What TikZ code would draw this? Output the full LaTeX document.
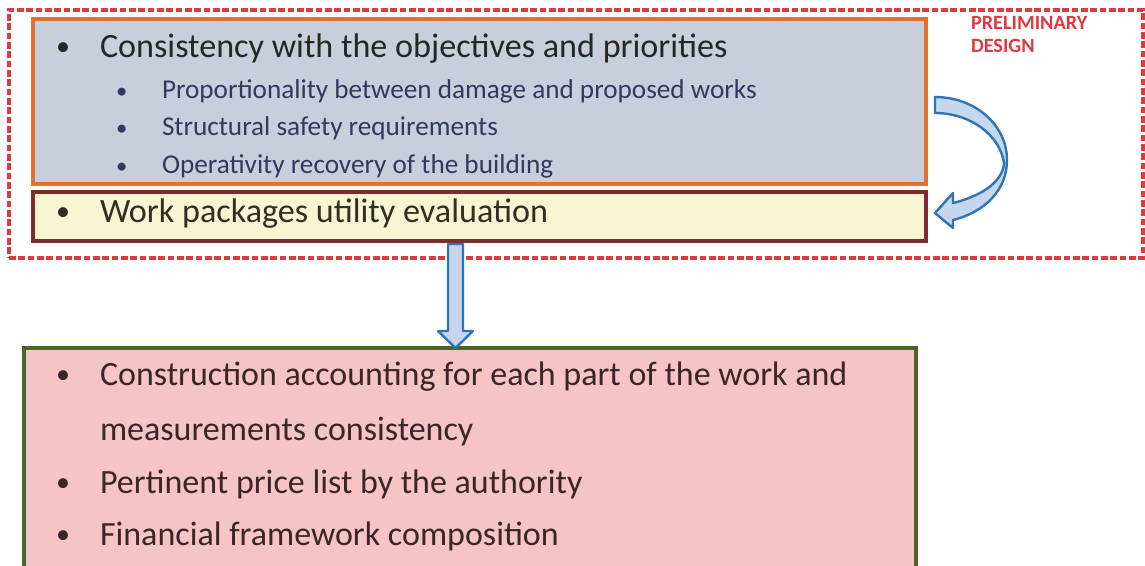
\documentclass[tikz,border=0pt]{standalone}
\usepackage{fontspec}
\setmainfont{Carlito}
\usetikzlibrary{calc,fit}
\definecolor{slate}{HTML}{C9CEDC}
\definecolor{amber}{HTML}{E4702A}
\definecolor{cream}{HTML}{F8F5D2}
\definecolor{maroon}{HTML}{7F2A2C}
\definecolor{blush}{HTML}{F5C5C6}
\definecolor{moss}{HTML}{4F6128}
\definecolor{signal}{HTML}{E0383E}
\definecolor{sky}{HTML}{C6D6EC}
\definecolor{ocean}{HTML}{2E75B6}
\definecolor{ink}{HTML}{262626}
\definecolor{navy}{HTML}{2F3B5C}
\definecolor{cocoa}{HTML}{3B2527}
\begin{document}
\begin{tikzpicture}[x=0.75pt,y=-0.75pt,
    every node/.style={inner sep=0pt,outer sep=0pt},
    panel/.style={draw,line width=2.4pt},
    txt/.style={anchor=base west,font=\fontsize{25.6}{30}\selectfont},
    subtxt/.style={anchor=base west,text=navy,font=\fontsize{20.4}{24}\selectfont},
    bigtxt/.style={anchor=base west,text=cocoa,font=\fontsize{25.5}{30}\selectfont},
    dot/.style={anchor=base west,font=\fontsize{21}{25}\selectfont},
    blockarrow/.style={draw=ocean,fill=sky,line width=1.8pt,line join=round}]
    \useasboundingbox (0,0) rectangle (1145,565);
    % preliminary design frame
    \node[fit={(9,10) (1143,258)},draw=signal,line width=2.6pt,dash pattern=on 5pt off 2pt] (frame) {};
    \node[anchor=north west,align=left,text=signal,font=\fontsize{15.2}{17.5}\selectfont\bfseries] (phase) at (971,16) {PRELIMINARY\\DESIGN};
    % boxes
    \node[fit={(33,19) (926,184)},panel,draw=amber,fill=slate] (goals) {};
    \node[fit={(33,192) (926,241)},panel,draw=maroon,line width=2.6pt,fill=cream] (util) {};
    \node[fit={(24,348) (916,575)},panel,draw=moss,fill=blush] (cost) {};
    % texts
    \node[dot,text=ink] (b1) at (56,55) {\textbullet};
    \node[txt,text=ink] (goaltxt) at (100,57) {Consistency with the objectives and priorities};
    \foreach \y/\t in {98/Proportionality between damage and proposed works,
                       135/Structural safety requirements,
                       173/Operativity recovery of the building} {
      \node[subtxt,font=\fontsize{17}{20}\selectfont] (sb\y) at (116,\y) {\textbullet};
      \node[subtxt] (st\y) at (162,\y) {\t};
    }
    \node[dot,text=ink!90!olive] (b2) at (56,220) {\textbullet};
    \node[txt,text=ink!90!olive] (utiltxt) at (100,222) {Work packages utility evaluation};
    \node[dot,text=cocoa] (cb1) at (56,383) {\textbullet};
    \node[bigtxt] (ct1) at (100,385) {Construction accounting for each part of the work and};
    \node[bigtxt] (ct2) at (100,440) {measurements consistency};
    \node[dot,text=cocoa] (cb3) at (56,491) {\textbullet};
    \node[bigtxt] (ct3) at (100,493) {Pertinent price list by the authority};
    \node[dot,text=cocoa] (cb4) at (56,543) {\textbullet};
    \node[bigtxt] (ct4) at (100,545) {Financial framework composition};
    % curved arrow
    \draw[blockarrow] (935,97) .. controls (975,97) and (1007,125) .. (1007,160)
      .. controls (1007,190) and (985,212) .. (953,220) -- (953,228) -- (935,213)
      -- (953,193) -- (953,203) .. controls (985,195) and (1003,180) .. (1004,163)
      .. controls (1000,135) and (970,113) .. (935,113) -- cycle;
    % down arrow
    \coordinate (dtop) at (455.5,244);
    \coordinate (dtip) at (dtop |- cost.north);
    \draw[blockarrow] ($(dtop)+(-7.5,0)$) -- ($(dtip)+(-7.5,-17)$) -- ($(dtip)+(-17.5,-17)$)
      -- (dtip) -- ($(dtip)+(17.5,-17)$) -- ($(dtip)+(7.5,-17)$) -- ($(dtop)+(7.5,0)$) -- cycle;
\end{tikzpicture}
\end{document}
